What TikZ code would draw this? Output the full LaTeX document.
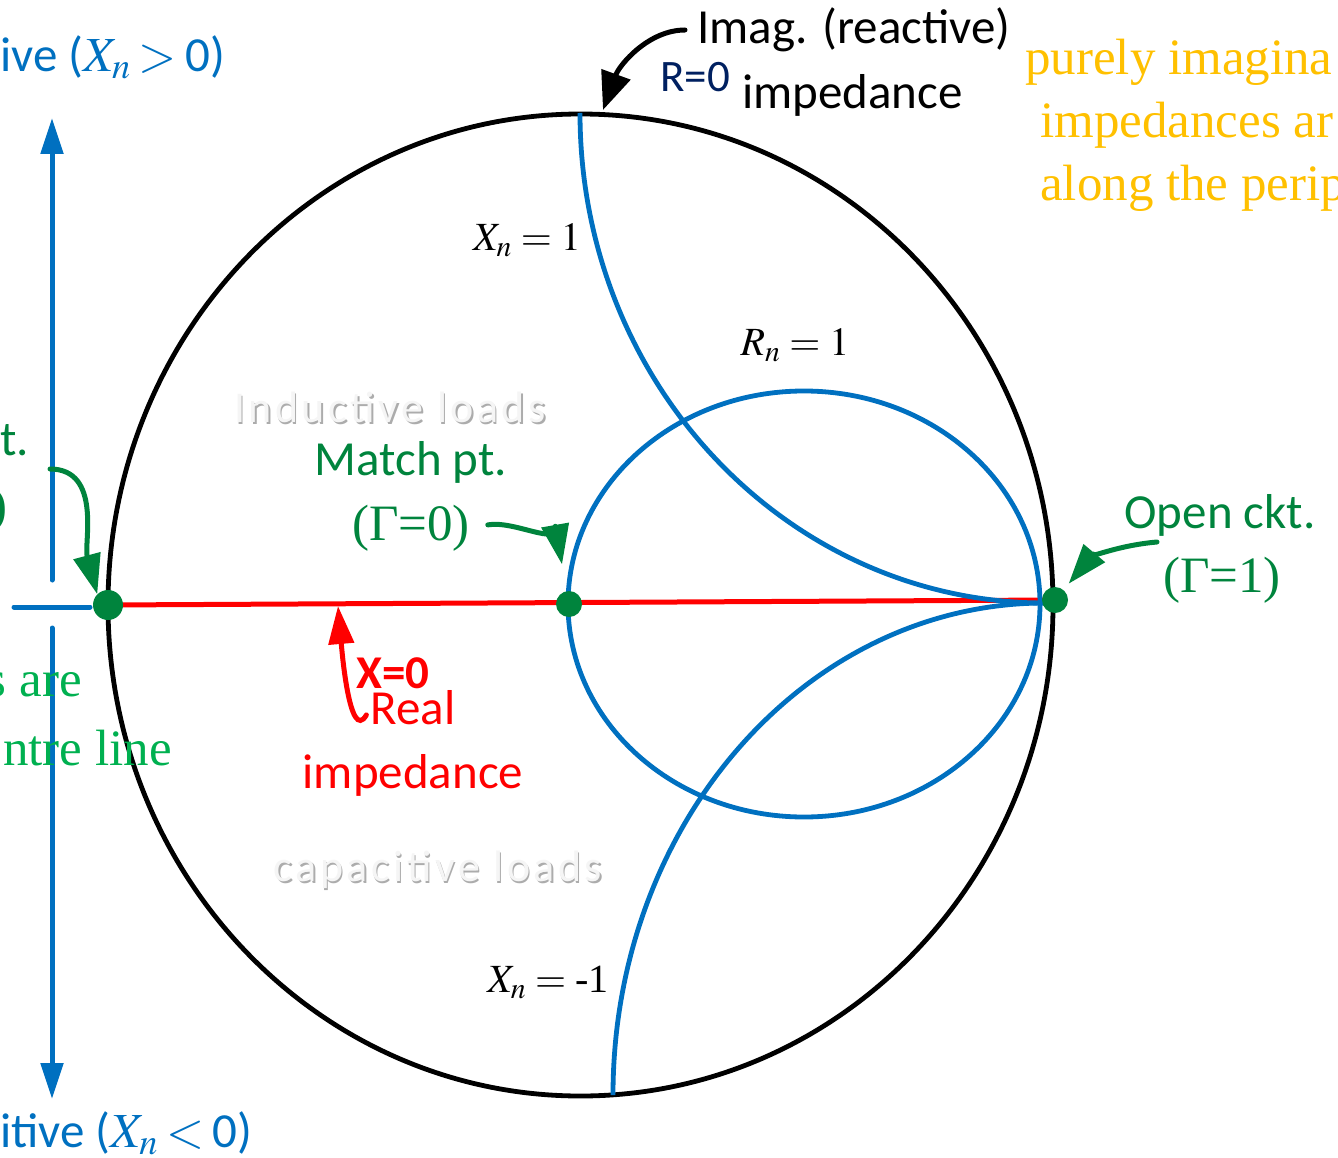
\documentclass[tikz,border=0pt]{standalone}
\usepackage{mathptmx}
\usepackage{fontspec}
\setmainfont{Carlito}
\newfontfamily\timesfont{Liberation Serif}
\newfontfamily\ghostfont[LetterSpace=8]{Carlito}
\usetikzlibrary{arrows.meta, positioning}
\definecolor{chartblue}{RGB}{0,112,192}
\definecolor{matchgreen}{RGB}{0,132,61}
\definecolor{litegreen}{RGB}{0,176,80}
\definecolor{navyblue}{RGB}{0,32,96}
\definecolor{amber}{RGB}{255,192,0}

\begin{document}
\begin{tikzpicture}[x=1pt, y=1pt,
        rim/.style={draw=black, line width=4.8pt},
        curve/.style={draw=chartblue, line width=4.8pt},
        axis/.style={draw=chartblue, line width=5pt, line cap=round, -{Triangle[length=36pt, width=22pt]}},
        realline/.style={draw=red, line width=5pt},
        dot/.style={circle, fill=matchgreen, inner sep=0pt, minimum size=#1},
        callout/.style={draw=matchgreen, line width=5pt, line cap=round, -{Triangle[length=40pt, width=27pt]}},
        pointer/.style={draw=black, line width=5pt, line cap=round, -{Triangle[length=38pt, width=30pt]}},
        redptr/.style={draw=red, line width=5pt, line cap=round, -{Triangle[length=38pt, width=25pt]}},
        sans/.style={font=\fontsize{49}{55}\selectfont, inner sep=0pt},
        serif/.style={font=\timesfont\fontsize{51}{57}\selectfont, inner sep=0pt},
        mathlbl/.style={font=\fontsize{40}{46}\selectfont, inner sep=0pt},
        ghost/.style={font=\ghostfont\fontsize{44}{50}\selectfont, text=gray!8, inner sep=0pt},
        ghostshade/.style={font=\ghostfont\fontsize{44}{50}\selectfont, text=gray!65, inner sep=0pt}
    ]
        \useasboundingbox (0,0) rectangle (1338,-1158);
        \clip (0,0) rectangle (1338,-1158);

        % points on the chart
        \coordinate (shortpt) at (108,-605);
        \coordinate (matchpt) at (569,-604);
        \coordinate (openpt) at (1055,-600);
        \coordinate (topmark) at (603,-110);
        \coordinate (xzero) at (338,-606);
        \coordinate (shortfrom) at (50,-469);
        \coordinate (openfrom) at (1157,-542);

        % axis on the left
        \coordinate (axtop) at (52,-118);
        \coordinate (axup) at (52,-580);
        \coordinate (axdown) at (52,-628);
        \coordinate (axbot) at (52,-1099);
        \draw [axis] (axup) -- (axtop);
        \draw [axis] (axdown) -- (axbot);
        \draw [chartblue, line width=5pt, line cap=round] (14,-607) -- (90,-607);

        % chart
        \draw [realline] (shortpt) -- (openpt);
        \draw [rim] (580.5,-605) ellipse [x radius=472.5, y radius=491];
        \draw [curve] (804,-604) ellipse [x radius=236, y radius=213];
        \draw [curve] (580,-113) arc [start angle=180, end angle=270, x radius=465, y radius=490];
        \draw [curve] (613,-1095) arc [start angle=180, end angle=90, x radius=432, y radius=492];

        \node (short) [dot=30pt] at (shortpt) {};
        \node (match) [dot=26pt] at (matchpt) {};
        \node (open) [dot=26pt] at (openpt) {};

        % labels
        \node (indpos) [sans, text=chartblue, anchor=west] at (0,-57) {ive ($X_n$\,$>$\,0)};
        \node (capneg) [sans, text=chartblue, anchor=west] at (0,-1133) {itive ($X_n$\,$<$\,0)};
        \node (imag) [sans, anchor=west] at (697,-30) {Imag. (reactive)};
        \node (rzero) [sans, text=navyblue, anchor=west, font=\fontsize{45}{50}\selectfont] at (660,-77) {R=0};
        \node (imped) [sans, anchor=west] at (742,-95) {impedance};
        \node (purely) [serif, text=amber, anchor=west] at (1025,-62) {purely imagina};
        \node (imps) [serif, text=amber, anchor=west] at (1040,-125) {impedances ar};
        \node (along) [serif, text=amber, anchor=west] at (1040,-188) {along the perip};
        \node (xone) [mathlbl] at (527,-240) {$X_n = 1$};
        \node (rone) [mathlbl] at (795,-345) {$R_n = 1$};
        \node (xmone) [mathlbl] at (548,-982) {$X_n =$ {\timesfont -1}};
        \node (inductsh) [ghostshade] at (391.5,-409) {Inductive loads};
        \node (induct) [ghost] at (390,-407) {Inductive loads};
        \node (capacsh) [ghostshade] at (439.5,-872) {capacitive loads};
        \node (capac) [ghost] at (438,-870) {capacitive loads};
        \node (matchlbl) [sans, text=matchgreen] at (411,-462) {Match pt.};
        \node (gzero) [serif, text=matchgreen] at (411,-528) {(Γ=0)};
        \node (shortlbl) [sans, text=matchgreen, anchor=west] at (0,-440) {t.};
        \node (gmone) [serif, text=matchgreen, anchor=east] at (8,-510) {)};
        \node (sare) [serif, text=litegreen, anchor=east] at (82,-685) {s are};
        \node (centre) [serif, text=litegreen, anchor=east] at (172,-748) {ntre line};
        \node (xzlbl) [sans, text=red, font=\bfseries\fontsize{47}{52}\selectfont] at (393,-673) {X=0};
        \node (real) [sans, text=red] at (413,-708) {Real};
        \node (realimp) [sans, text=red] at (413,-775) {impedance};
        \node (openlbl) [sans, text=matchgreen] at (1220,-515) {Open ckt.};
        \node (gone) [serif, text=matchgreen] at (1222,-580) {(Γ=1)};

        % callouts
        \draw [pointer, shorten <=12pt] (imag.west) to[out=180, in=70] (topmark);
        \draw [redptr, shorten <=8pt] (real.west) to[out=240, in=-85] (xzero);
        \draw [callout] (shortfrom) to[out=0, in=105] (short.north west);
        \draw [callout, shorten <=18pt, shorten >=27pt] (gzero.east) to[out=10, in=100] (match);
        \draw [callout, shorten >=8pt] (openfrom) to[out=185, in=50] (open);
    \end{tikzpicture}
\end{document}
